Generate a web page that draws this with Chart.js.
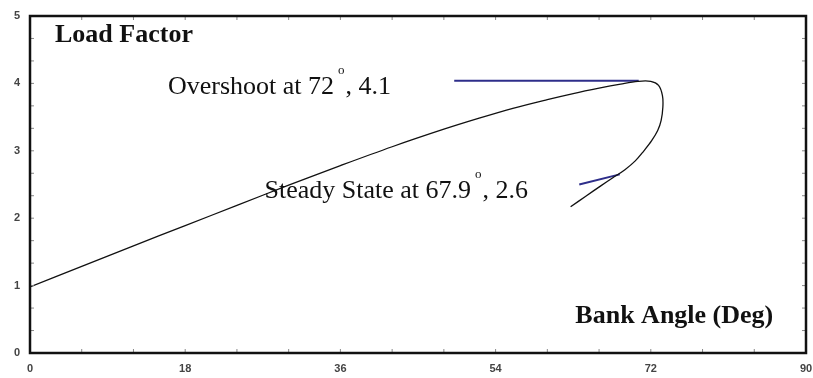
<!DOCTYPE html>
<html>
<head>
<meta charset="utf-8">
<script src="https://cdn.jsdelivr.net/npm/chart.js@4.4.1/dist/chart.umd.min.js"></script>
<style>
  body { margin: 0; background: #fff; }
  #wrap { width: 813px; height: 378px; }
</style>
</head>
<body>
<div id="wrap"><canvas id="loadChart" width="813" height="378"></canvas></div>
<script>
// ==================== LOAD FACTOR vs BANK ANGLE ====================
const bankAngle = [0, 6, 12, 18, 24, 30, 36, 42, 48, 52, 56, 60, 63, 66, 68.5, 70.5, 72.0, 72.9, 73.35, 73.4, 73.2, 72.8, 72.1, 71.2, 70.2, 69.0, 67.6, 66.2, 64.5, 62.7];
const loadFactor = [0.98, 1.285, 1.59, 1.89, 2.19, 2.49, 2.78, 3.06, 3.32, 3.48, 3.63, 3.76, 3.85, 3.93, 3.99, 4.03, 4.03, 3.97, 3.82, 3.65, 3.45, 3.30, 3.15, 3.00, 2.85, 2.72, 2.60, 2.48, 2.33, 2.17];

const overshootX = [49.2, 70.6];
const overshootY = [4.04, 4.04];
const steadyX = [63.7, 68.4];
const steadyY = [2.50, 2.65];

const xTickLabels = [0, 18, 36, 54, 72, 90];
const yTickLabels = [0, 1, 2, 3, 4, 5];

const toPoints = (xs, ys) => xs.map((x, i) => ({ x, y: ys[i] }));

// text drawn on the plot, anchored in data units (baseline)
// part flag: 0 = normal, 1 = superscript degree mark
const notes = [
  { parts: [['Load Factor', 0]], x: 2.9, y: 4.61, bold: true, align: 'left' },
  { parts: [['Overshoot at 72', 0], ['o', 1], [', 4.1', 0]], x: 16.0, y: 3.84, bold: false, align: 'left' },
  { parts: [['Steady State at 67.9', 0], ['o', 1], [', 2.6', 0]], x: 27.2, y: 2.30, bold: false, align: 'left' },
  { parts: [['Bank Angle (Deg)', 0]], x: 86.2, y: 0.445, bold: true, align: 'right' }
];

const framePlugin = {
  id: 'frame',
  afterDatasetsDraw(chart) {
    const { ctx, chartArea: a, scales } = chart;
    ctx.save();
    // minor ticks, inward on all sides
    ctx.strokeStyle = '#888';
    ctx.lineWidth = 1;
    ctx.beginPath();
    for (let v = 6; v < 90; v += 6) {
      const px = scales.x.getPixelForValue(v);
      ctx.moveTo(px, a.bottom); ctx.lineTo(px, a.bottom - 4);
      ctx.moveTo(px, a.top); ctx.lineTo(px, a.top + 4);
    }
    for (let i = 1; i < 15; i++) {
      const py = scales.y.getPixelForValue(i / 3);
      ctx.moveTo(a.left, py); ctx.lineTo(a.left + 4, py);
      ctx.moveTo(a.right, py); ctx.lineTo(a.right - 4, py);
    }
    ctx.stroke();
    // frame
    ctx.strokeStyle = '#111';
    ctx.lineWidth = 2.5;
    ctx.strokeRect(a.left, a.top, a.right - a.left, a.bottom - a.top);

    // notes
    ctx.fillStyle = '#111';
    ctx.textBaseline = 'alphabetic';
    ctx.textAlign = 'left';
    notes.forEach(n => {
      const font = (sup) => (n.bold ? 'bold ' : '') + (sup ? '13px' : '26px') + ' "Liberation Serif", "Times New Roman", serif';
      const advance = (t, sup) => { ctx.font = font(sup); return ctx.measureText(t).width + (sup ? 5 : 0); };
      let total = 0;
      n.parts.forEach(([t, sup]) => { total += advance(t, sup); });
      let px = scales.x.getPixelForValue(n.x);
      if (n.align === 'right') px -= total;
      const py = scales.y.getPixelForValue(n.y);
      n.parts.forEach(([t, sup]) => {
        ctx.font = font(sup);
        ctx.fillText(t, sup ? px + 4 : px, sup ? py - 20 : py);
        px += advance(t, sup);
      });
    });
    ctx.restore();
  }
};

new Chart(document.getElementById('loadChart'), {
  type: 'scatter',
  data: {
    datasets: [
      {
        label: 'Load Factor',
        data: toPoints(bankAngle, loadFactor),
        showLine: true,
        borderColor: '#111',
        borderWidth: 1.3,
        pointRadius: 0,
        tension: 0.35
      },
      {
        label: 'Overshoot',
        data: toPoints(overshootX, overshootY),
        showLine: true,
        borderColor: '#2e2e8a',
        borderWidth: 2,
        pointRadius: 0
      },
      {
        label: 'Steady State',
        data: toPoints(steadyX, steadyY),
        showLine: true,
        borderColor: '#2e2e8a',
        borderWidth: 2,
        pointRadius: 0
      }
    ]
  },
  options: {
    responsive: false,
    animation: false,
    layout: { padding: { top: 16, right: 7, left: 0, bottom: 0 } },
    plugins: { legend: { display: false }, tooltip: { enabled: false } },
    scales: {
      x: {
        type: 'linear',
        min: 0,
        max: 90,
        afterBuildTicks: (s) => { s.ticks = xTickLabels.map(v => ({ value: v })); },
        afterFit: (s) => { s.height = 25; s.paddingLeft = 0; s.paddingRight = 0; },
        grid: { display: false, drawTicks: false },
        border: { display: false },
        ticks: { padding: 9, maxRotation: 0, autoSkip: false, color: '#444', font: { family: 'Arial, "Liberation Sans", sans-serif', size: 11, weight: 'bold' } }
      },
      y: {
        type: 'linear',
        min: 0,
        max: 5,
        afterBuildTicks: (s) => { s.ticks = yTickLabels.map(v => ({ value: v })); },
        afterFit: (s) => { s.width = 30; s.paddingTop = 0; s.paddingBottom = 0; },
        grid: { display: false, drawTicks: false },
        border: { display: false },
        ticks: { padding: 10, color: '#444', font: { family: 'Arial, "Liberation Sans", sans-serif', size: 11, weight: 'bold' } }
      }
    }
  },
  plugins: [framePlugin]
});
</script>
</body>
</html>
